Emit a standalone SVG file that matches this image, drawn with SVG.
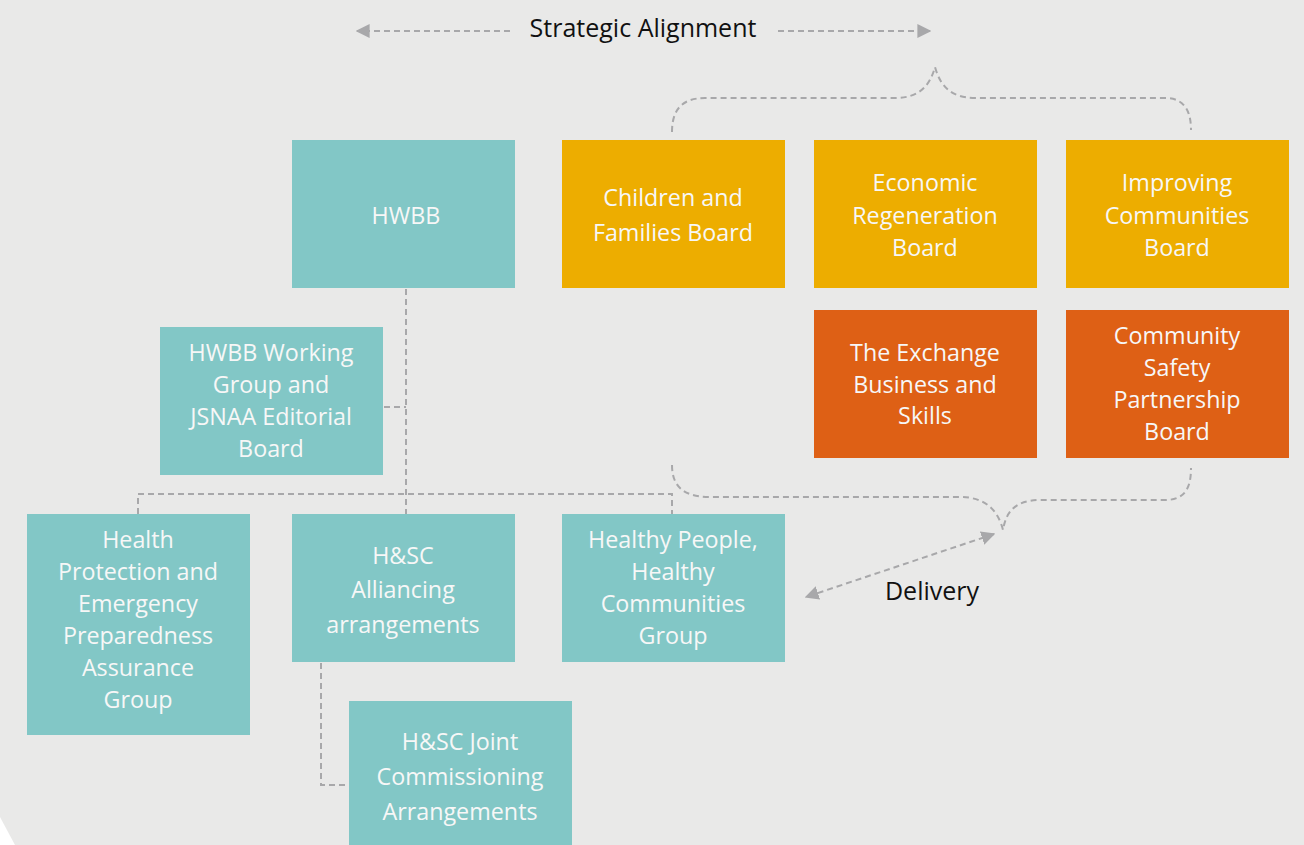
<svg xmlns="http://www.w3.org/2000/svg" width="1304" height="845" viewBox="0 0 1304 845">
<style>
.teal{fill:#82C7C6}
.gold{fill:#EDAD00}
.orange{fill:#DE6015}
.t{font-family:"Open Sans","Noto Sans","Liberation Sans",sans-serif;font-size:23.3px;fill:#F7F7F7;text-anchor:middle}
.lbl{font-family:"Open Sans","Noto Sans","Liberation Sans",sans-serif;font-size:25px;fill:#111;text-anchor:middle}
.c{fill:none;stroke:#A8A8AA;stroke-width:2;stroke-dasharray:6 4}
</style>
<defs>
<marker id="ah" viewBox="0 0 10 10" refX="9" refY="5" markerWidth="7" markerHeight="7" orient="auto-start-reverse" markerUnits="strokeWidth">
<path d="M0,0 L10,5 L0,10 z" fill="#A8A8AA"/>
</marker>
</defs>
<rect width="1304" height="845" fill="#E9E9E8"/>
<polygon points="0,817 15,845 0,845" fill="#FFFFFF"/>

<g id="connectors">
<path class="c" d="M406,289 V514"/>
<path class="c" d="M384,407 H406"/>
<path class="c" d="M138,514 V494 H672 V514"/>
<path class="c" d="M321,663 V785 H349"/>
<path class="c" d="M510,31 H357" marker-end="url(#ah)"/>
<path class="c" d="M778,31 H930" marker-end="url(#ah)"/>
<path class="c" d="M672,132 C672,112 680,98 705,98 H895 C920,98 930,85 935,67 C940,85 950,98 975,98 H1165 C1185,98 1191,112 1191,130"/>
<path class="c" d="M672,465 C672,485 682,497 710,497 H960 C985,497 998,510 1003,530 C1006,512 1015,500 1040,500 H1165 C1185,500 1191,488 1191,468"/>
<path class="c" d="M994,534 L806,597" marker-start="url(#ah)" marker-end="url(#ah)"/>
</g>

<text class="lbl" x="643" y="37">Strategic Alignment</text>
<text class="lbl" x="932" y="600">Delivery</text>

<g id="hwbb"><rect class="teal" x="292" y="140" width="223" height="148"/>
<text class="t" x="406" y="224">HWBB</text></g>

<g id="children"><rect class="gold" x="562" y="140" width="223" height="148"/>
<text class="t" x="673" y="206">Children and</text>
<text class="t" x="673" y="241">Families Board</text></g>

<g id="economic"><rect class="gold" x="814" y="140" width="223" height="148"/>
<text class="t" x="925" y="191">Economic</text>
<text class="t" x="925" y="224">Regeneration</text>
<text class="t" x="925" y="256">Board</text></g>

<g id="improving"><rect class="gold" x="1066" y="140" width="223" height="148"/>
<text class="t" x="1177" y="191">Improving</text>
<text class="t" x="1177" y="224">Communities</text>
<text class="t" x="1177" y="256">Board</text></g>

<g id="exchange"><rect class="orange" x="814" y="310" width="223" height="148"/>
<text class="t" x="925" y="361">The Exchange</text>
<text class="t" x="925" y="393">Business and</text>
<text class="t" x="925" y="424">Skills</text></g>

<g id="community-safety"><rect class="orange" x="1066" y="310" width="223" height="148"/>
<text class="t" x="1177" y="344">Community</text>
<text class="t" x="1177" y="376">Safety</text>
<text class="t" x="1177" y="408">Partnership</text>
<text class="t" x="1177" y="440">Board</text></g>

<g id="working-group"><rect class="teal" x="160" y="327" width="223" height="148"/>
<text class="t" x="271" y="361">HWBB Working</text>
<text class="t" x="271" y="393">Group and</text>
<text class="t" x="271" y="425">JSNAA Editorial</text>
<text class="t" x="271" y="457">Board</text></g>

<g id="health-protection"><rect class="teal" x="27" y="514" width="223" height="221"/>
<text class="t" x="138" y="548">Health</text>
<text class="t" x="138" y="580">Protection and</text>
<text class="t" x="138" y="612">Emergency</text>
<text class="t" x="138" y="644">Preparedness</text>
<text class="t" x="138" y="676">Assurance</text>
<text class="t" x="138" y="708">Group</text></g>

<g id="alliancing"><rect class="teal" x="292" y="514" width="223" height="148"/>
<text class="t" x="403" y="564">H&amp;SC</text>
<text class="t" x="403" y="598">Alliancing</text>
<text class="t" x="403" y="633">arrangements</text></g>

<g id="healthy-people"><rect class="teal" x="562" y="514" width="223" height="148"/>
<text class="t" x="673" y="548">Healthy People,</text>
<text class="t" x="673" y="580">Healthy</text>
<text class="t" x="673" y="612">Communities</text>
<text class="t" x="673" y="644">Group</text></g>

<g id="joint-commissioning"><rect class="teal" x="349" y="701" width="223" height="150"/>
<text class="t" x="460" y="750">H&amp;SC Joint</text>
<text class="t" x="460" y="785">Commissioning</text>
<text class="t" x="460" y="820">Arrangements</text></g>
</svg>
